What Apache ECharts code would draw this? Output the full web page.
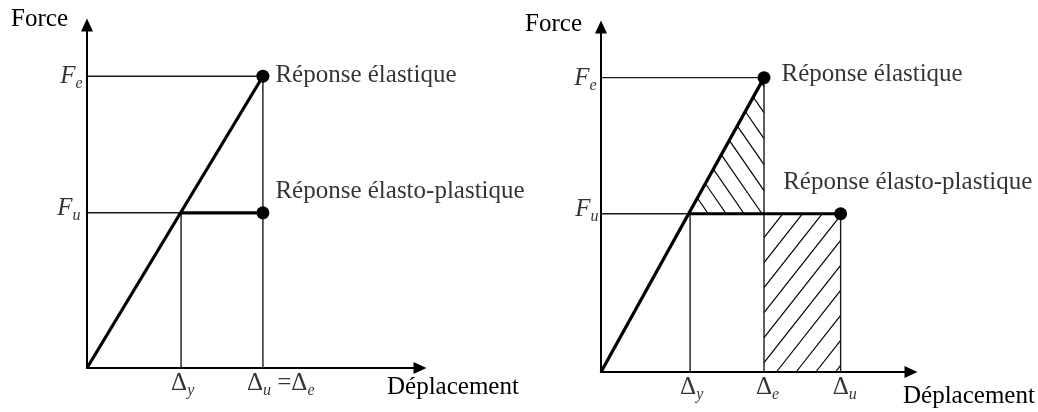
<!DOCTYPE html>
<html>
<head>
<meta charset="utf-8">
<script src="https://cdn.jsdelivr.net/npm/echarts@6/dist/echarts.min.js"></script>
<style>
html, body { margin: 0; background: #fff; }
#chart { width: 1038px; height: 412px; }
</style>
</head>
<body>
<div id="chart"></div>
<script>
// left panel : same displacement (Δu = Δe)
var leftDisp = [0, 1.0, 1.87];          // 0, Δy, Δu = Δe
var leftForce = [0, 1.0, 1.88];         // 0, Fu, Fe
// right panel : same energy
var rightDisp = [0, 1.0, 1.83, 2.69];   // 0, Δy, Δe, Δu
var rightForce = [0, 1.0, 1.86];        // 0, Fu, Fe
var axisMaxX = [3.54, 3.48];
var axisMaxY = [2.21, 2.18];

var leftTicks = ['{d|Δ}{s|y}', '{d|Δ}{s|u}{d| =Δ}{s|e}'];
var rightTicks = ['{d|Δ}{s|y}', '{d|Δ}{s|e}', '{d|Δ}{s|u}'];
var forceTicks = ['{f|F}{s|u}', '{f|F}{s|e}'];
var curveNames = ['Réponse élastique', 'Réponse élasto-plastique'];

var serif = '"Liberation Serif", "Times New Roman", serif';
var rich = {
	d: { fontSize: 25, fontFamily: serif, color: '#000', lineHeight: 25, verticalAlign: 'top' },
	f: { fontSize: 25, fontFamily: serif, fontStyle: 'italic', color: '#000', lineHeight: 25, verticalAlign: 'top' },
	s: { fontSize: 16, fontFamily: serif, fontStyle: 'italic', color: '#000', lineHeight: 28, verticalAlign: 'bottom' }
};

var chart = echarts.init(document.getElementById('chart'));

function axis(i, max, nameOpt) {
	var a = {
		type: 'value', gridIndex: i, min: 0, max: max,
		axisLine: { show: true, symbol: ['none', 'triangle'], symbolSize: [12, 13], lineStyle: { color: '#000', width: 2 } },
		axisTick: { show: false }, axisLabel: { show: false }, splitLine: { show: false }
	};
	for (var k in nameOpt) a[k] = nameOpt[k];
	return a;
}

function thin(pts, g) {
	return { type: 'line', xAxisIndex: g, yAxisIndex: g, data: pts, symbol: 'none', silent: true, z: 2,
		lineStyle: { color: '#1a1a1a', width: 1.4 } };
}
function thick(pts, g) {
	return { type: 'line', xAxisIndex: g, yAxisIndex: g, data: pts, symbol: 'none', silent: true, z: 3,
		lineStyle: { color: '#000', width: 3.2 } };
}
function dots(pts, g) {
	return { type: 'scatter', xAxisIndex: g, yAxisIndex: g, data: pts, symbolSize: 13, z: 4,
		itemStyle: { color: '#000', opacity: 1 } };
}
// text only series
function labels(items, g) {
	return { type: 'scatter', xAxisIndex: g, yAxisIndex: g, symbolSize: 1, z: 5, silent: true,
		itemStyle: { color: 'rgba(0,0,0,0)' },
		data: items.map(function(it) {
			return { value: it.v, label: { show: true, formatter: it.t, position: it.pos || 'right',
				distance: it.dist || 0, offset: it.off || [0, 0], align: it.align, verticalAlign: it.va,
				fontSize: 25, fontFamily: serif, color: '#000', rich: rich } };
		})
	};
}

var lD = leftDisp, lF = leftForce, rD = rightDisp, rF = rightForce;

// hatched zones of the right panel
var hatchPolys = [
	[[rD[1], rF[1]], [rD[2], rF[2]], [rD[2], rF[1]]],
	[[rD[2], 0], [rD[2], rF[1]], [rD[3], rF[1]], [rD[3], 0]]
];
var hatchStyle = [
	{ slope: 1.45, step: 26, refEdge: 'right', refDy: 35 },
	{ slope: -1.27, step: 25, refEdge: 'left', refDy: 24 }
];

function clipLine(p0, d, pts) {
	var ts = [];
	for (var i = 0; i < pts.length; i++) {
		var a = pts[i], b = pts[(i + 1) % pts.length];
		var ex = b[0] - a[0], ey = b[1] - a[1];
		var den = d[0] * ey - d[1] * ex;
		if (Math.abs(den) < 1e-9) continue;
		var wx = a[0] - p0[0], wy = a[1] - p0[1];
		var t = (wx * ey - wy * ex) / den;
		var u = (wx * d[1] - wy * d[0]) / den;
		if (u >= -1e-6 && u <= 1 + 1e-6) ts.push(t);
	}
	if (ts.length < 2) return null;
	var t0 = Math.min.apply(null, ts), t1 = Math.max.apply(null, ts);
	if (t1 - t0 < 1) return null;
	return [p0[0] + t0 * d[0], p0[1] + t0 * d[1], p0[0] + t1 * d[0], p0[1] + t1 * d[1]];
}

function renderHatch(params, api) {
	var i = params.dataIndex;
	var pts = hatchPolys[i].map(function(p) { return api.coord(p); });
	var hs = hatchStyle[i];
	var xs = pts.map(function(p) { return p[0]; }), ys = pts.map(function(p) { return p[1]; });
	var xRef = hs.refEdge === 'right' ? Math.max.apply(null, xs) : Math.min.apply(null, xs);
	var yRef = Math.min.apply(null, ys) + hs.refDy;
	var children = [];
	for (var k = -40; k <= 40; k++) {
		var seg = clipLine([xRef, yRef + k * hs.step], [1, hs.slope], pts);
		if (!seg) continue;
		children.push({ type: 'line', shape: { x1: seg[0], y1: seg[1], x2: seg[2], y2: seg[3] },
			style: { stroke: '#000', lineWidth: 1.2 } });
	}
	return { type: 'group', children: children };
}

var option = {
	animation: false,
	backgroundColor: '#fff',
	grid: [
		{ left: 87, top: 25, width: 333, height: 343 },
		{ left: 601, top: 27, width: 310, height: 345 }
	],
	xAxis: [
		axis(0, axisMaxX[0], { name: 'Déplacement', nameLocation: 'end', nameGap: -33,
			nameTextStyle: { fontSize: 25, fontFamily: serif, color: '#000', align: 'left', verticalAlign: 'top', padding: [7, 0, 0, 0] } }),
		axis(1, axisMaxX[1], { name: 'Déplacement', nameLocation: 'end', nameGap: -8,
			nameTextStyle: { fontSize: 25, fontFamily: serif, color: '#000', align: 'left', verticalAlign: 'top', padding: [12, 0, 0, 0] } })
	],
	yAxis: [
		axis(0, axisMaxY[0], { name: 'Force', nameLocation: 'end', nameGap: 6,
			nameTextStyle: { fontSize: 25, fontFamily: serif, color: '#000', align: 'right', verticalAlign: 'middle', padding: [0, 19, 0, 0] } }),
		axis(1, axisMaxY[1], { name: 'Force', nameLocation: 'end', nameGap: 3,
			nameTextStyle: { fontSize: 25, fontFamily: serif, color: '#000', align: 'right', verticalAlign: 'middle', padding: [0, 19, 0, 0] } })
	],
	series: [
		// left panel
		thin([[0, lF[2]], [lD[2], lF[2]], [lD[2], 0]], 0),
		thin([[0, lF[1]], [lD[1], lF[1]], [lD[1], 0]], 0),
		thick([[0, 0], [lD[2], lF[2]]], 0),
		thick([[lD[1], lF[1]], [lD[2], lF[1]]], 0),
		dots([[lD[2], lF[2]], [lD[2], lF[1]]], 0),
		labels([
			{ v: [lD[2], lF[2]], t: curveNames[0], dist: 12, off: [0, -1] },
			{ v: [lD[2], lF[1]], t: curveNames[1], dist: 12, off: [0, -21] },
			{ v: [0, lF[2]], t: forceTicks[1], pos: 'left', dist: 4, off: [0, 2] },
			{ v: [0, lF[1]], t: forceTicks[0], pos: 'left', dist: 6, off: [0, -3] },
			{ v: [lD[1], 0], t: leftTicks[0], pos: 'inside', align: 'left', va: 'top', off: [-10, 3] },
			{ v: [lD[2], 0], t: leftTicks[1], pos: 'inside', align: 'left', va: 'top', off: [-16, 3] }
		], 0),
		// right panel
		{ type: 'custom', xAxisIndex: 1, yAxisIndex: 1, renderItem: renderHatch, clip: false, silent: true, z: 1,
			data: [[rD[2], rF[1]], [rD[3], rF[1]]] },
		thin([[0, rF[2]], [rD[2], rF[2]], [rD[2], 0]], 1),
		thin([[0, rF[1]], [rD[1], rF[1]], [rD[1], 0]], 1),
		thin([[rD[3], rF[1]], [rD[3], 0]], 1),
		thick([[0, 0], [rD[2], rF[2]]], 1),
		thick([[rD[1], rF[1]], [rD[3], rF[1]]], 1),
		dots([[rD[2], rF[2]], [rD[3], rF[1]]], 1),
		labels([
			{ v: [rD[2], rF[2]], t: curveNames[0], dist: 17, off: [0, -3] },
			{ v: [rD[3], rF[1]], t: curveNames[1], dist: 0, off: [-58, -31] },
			{ v: [0, rF[2]], t: forceTicks[1], pos: 'left', dist: 4, off: [0, 2] },
			{ v: [0, rF[1]], t: forceTicks[0], pos: 'left', dist: 2, off: [0, -3] },
			{ v: [rD[1], 0], t: rightTicks[0], pos: 'inside', align: 'left', va: 'top', off: [-10, 3] },
			{ v: [rD[2], 0], t: rightTicks[1], pos: 'inside', align: 'left', va: 'top', off: [-8, 3] },
			{ v: [rD[3], 0], t: rightTicks[2], pos: 'inside', align: 'left', va: 'top', off: [-8, 3] }
		], 1)
	]
};
chart.setOption(option);
</script>
</body>
</html>
